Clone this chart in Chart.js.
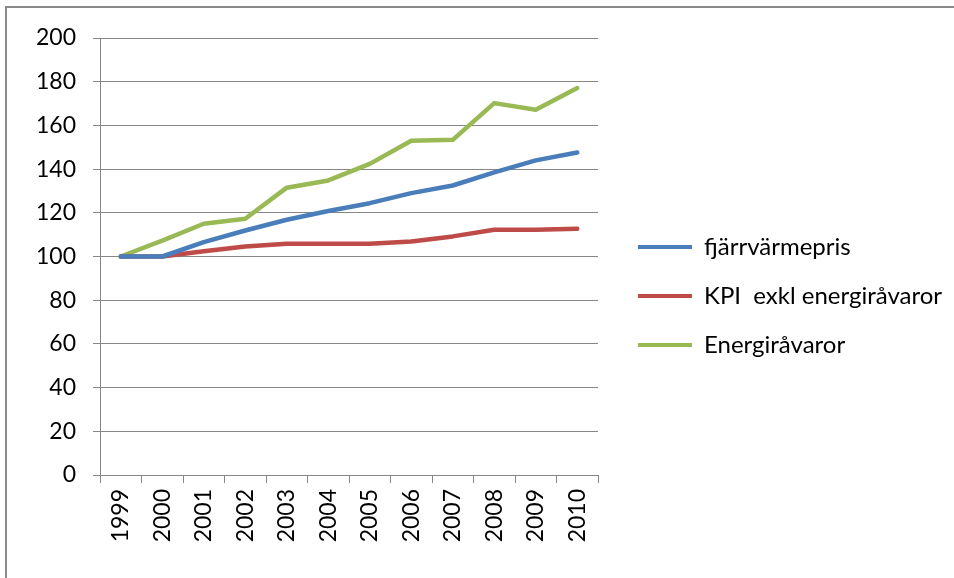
<!DOCTYPE html>
<html lang="sv">
<head>
<meta charset="UTF-8">
<title>Fjärrvärmepris</title>
<script src="https://cdn.jsdelivr.net/npm/chart.js"></script>
<style>
    html, body { margin: 0; padding: 0; background: #fff; }
    .frame {
        position: absolute; left: 5px; top: 6px; width: 960px; height: 580px;
        border-left: 2px solid #8a8a8a; border-top: 2px solid #8a8a8a;
    }
    #wrap { position: absolute; left: 0; top: 0; width: 954px; height: 578px; }
</style>
</head>
<body>
<div class="frame"></div>
<div id="wrap"><canvas id="chart"></canvas></div>
<script>
const years = ['1999', '2000', '2001', '2002', '2003', '2004', '2005', '2006', '2007', '2008', '2009', '2010'];
const fjarrvarmepris = [100, 100, 106.6, 111.9, 116.8, 120.8, 124.4, 129, 132.5, 138.5, 144, 147.6];
const kpiExklEnergi = [100, 100, 102.4, 104.6, 105.8, 105.8, 105.8, 106.9, 109.2, 112.2, 112.2, 112.7];
const energiravaror = [100, 107.3, 115, 117.3, 131.5, 134.8, 142.4, 153, 153.4, 170.2, 167.2, 177.1];

const gridGray = '#868686';

function line(label, data, color) {
    return {
        label: label,
        data: data,
        borderColor: color,
        backgroundColor: color,
        borderWidth: 4.5,
        pointRadius: 0,
        tension: 0,
        borderCapStyle: 'round',
        borderJoinStyle: 'round'
    };
}

// keep the legend column the same width as in the original, and start its lines a bit right of the plot
const legendBox = {
    id: 'legendBox',
    beforeLayout(chart) {
        const lg = chart.legend;
        if (!lg || lg._fixed) return;
        const fit = lg.fit;
        lg.fit = function () {
            fit.call(this);
            this.width = 356;
        };
        lg._fixed = true;
    },
    afterLayout(chart) {
        chart.legend.left += 15;
    }
};

new Chart(document.getElementById('chart'), {
    type: 'line',
    data: {
        labels: years,
        datasets: [
            line('fjärrvärmepris', fjarrvarmepris, '#4a7ebb'),
            line('KPI  exkl energiråvaror', kpiExklEnergi, '#be4b48'),
            line('Energiråvaror', energiravaror, '#98b954')
        ]
    },
    plugins: [legendBox],
    options: {
        responsive: true,
        maintainAspectRatio: false,
        animation: false,
        layout: { padding: { top: 38, bottom: 24, left: 0, right: 0 } },
        plugins: {
            tooltip: { enabled: false },
            legend: {
                position: 'right',
                labels: {
                    color: '#000',
                    font: { family: 'Lato', size: 24 },
                    boxWidth: 54,
                    boxHeight: 4,
                    padding: 25,
                    generateLabels(chart) {
                        return Chart.defaults.plugins.legend.labels.generateLabels(chart).map(l => {
                            l.lineWidth = 0;
                            l.fillStyle = l.strokeStyle;
                            return l;
                        });
                    }
                }
            }
        },
        scales: {
            x: {
                offset: true,
                grid: {
                    offset: true,
                    drawOnChartArea: false,
                    drawTicks: true,
                    tickLength: 8,
                    color: gridGray
                },
                border: { display: true, color: gridGray },
                ticks: {
                    color: '#000',
                    font: { family: 'Lato', size: 23 },
                    minRotation: 90,
                    maxRotation: 90,
                    autoSkip: false,
                    padding: 6
                },
                afterFit(scale) { scale.height = 79; }
            },
            y: {
                min: 0,
                max: 200,
                ticks: {
                    stepSize: 20,
                    color: '#000',
                    font: { family: 'Lato', size: 23 },
                    padding: 17
                },
                grid: { color: gridGray, tickLength: 7 },
                border: { display: true, color: gridGray },
                afterFit(scale) { scale.width = 100; }
            }
        }
    }
});
</script>
</body>
</html>
